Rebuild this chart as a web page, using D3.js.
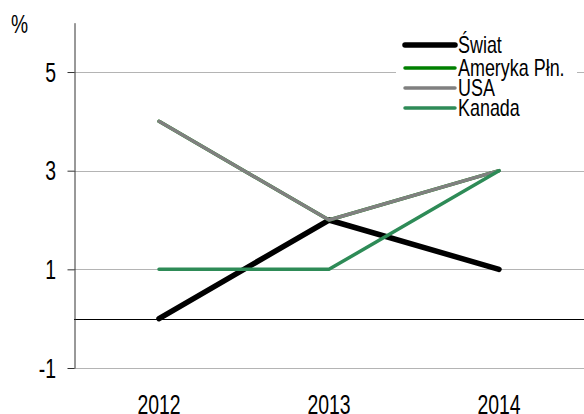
<!DOCTYPE html>
<html><head><meta charset="utf-8">
<script src="https://cdn.jsdelivr.net/npm/d3@7"></script>
<style>body{margin:0;background:#fff}svg{display:block}text{font-family:"Liberation Sans",Arial,sans-serif;fill:#000}</style>
</head><body>
<script>
const years = ["2012","2013","2014"];
const seriesNames = ["Świat","Ameryka Płn.","USA","Kanada"];
const swiat = [0,2,1];
const amerykaPln = [4,2,3];
const usa = [4,2,3];
const kanada = [1,1,3];
const yTicks = [-1,1,3,5];
const yTickLabels = ["-1","1","3","5"];
const colors = ["#000000","#008000","#808080","#2e8b57"];
const widths = [5.5,3.5,3.5,3.5];
const values = [swiat, amerykaPln, usa, kanada];

const W=584,H=414;
const SX=0.72;
const svg=d3.select("body").append("svg").attr("width",W).attr("height",H);
const x=d3.scaleBand().domain(years).range([74,584]);
const y=d3.scaleLinear().domain([-1,6]).range([368,22.7]);

function label(g,tx,ty,txt,size,anchor,sx){
  g.append("text").attr("transform",`translate(${tx},${ty}) scale(${sx||SX},1)`)
   .attr("text-anchor",anchor).attr("font-size",size).text(txt);
}

// gridlines
svg.append("g").selectAll("line").data(yTicks).join("line")
  .attr("x1",74).attr("x2",584).attr("y1",d=>Math.round(y(d))+0.5).attr("y2",d=>Math.round(y(d))+0.5)
  .attr("stroke","#b4b4b4").attr("stroke-width",1);
// zero line
svg.append("line").attr("x1",74).attr("x2",584).attr("y1",Math.round(y(0))+0.5).attr("y2",Math.round(y(0))+0.5)
  .attr("stroke","#000").attr("stroke-width",1);

// y axis
const ya=d3.axisLeft(y).tickValues(yTicks).tickSize(7).tickSizeOuter(0).tickFormat("");
const gy=svg.append("g").attr("transform","translate(74.5,0)").call(ya);
gy.select(".domain").attr("stroke","#333");
gy.selectAll(".tick line").attr("stroke","#333");
const gyl=svg.append("g");
yTicks.forEach((d,i)=>label(gyl,56,y(d)+9.7,yTickLabels[i],27,"end"));

// x labels
const gxl=svg.append("g");
years.forEach(d=>label(gxl,x(d)+x.bandwidth()/2,414,d,27,"middle"));

label(svg,11,33,"%",26,"start",0.74);

// lines
const line=d3.line().x((d,i)=>x(years[i])+x.bandwidth()/2).y(d=>y(d));
values.forEach((v,i)=>{
  svg.append("path").datum(v).attr("d",line).attr("fill","none")
    .attr("stroke",colors[i]).attr("stroke-width",widths[i]).attr("stroke-linecap","round").attr("stroke-linejoin","round");
});

// legend
const lg=svg.append("g");
lg.append("rect").attr("x",396).attr("y",32).attr("width",181).attr("height",86).attr("fill","#fff");
const ly=[45,68,88,108];
seriesNames.forEach((n,i)=>{
  lg.append("line").attr("x1",405).attr("x2",455).attr("y1",ly[i]).attr("y2",ly[i])
    .attr("stroke",colors[i]).attr("stroke-width",i===0?5.5:3.5).attr("stroke-linecap","round");
  label(lg,458,ly[i]+8.2,n,23,"start",0.78);
});
</script>
</body></html>
